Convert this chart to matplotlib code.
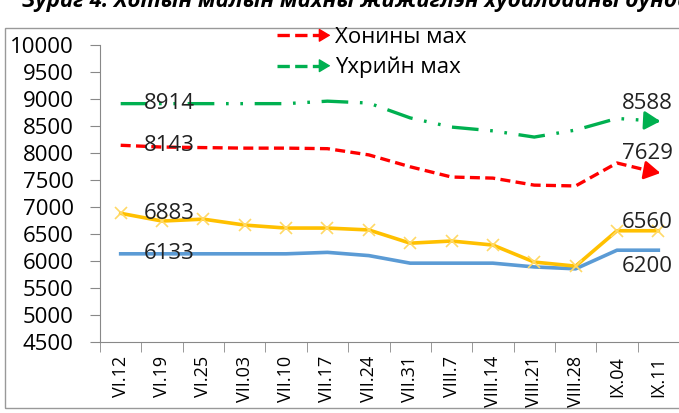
import matplotlib.pyplot as plt
from matplotlib.lines import Line2D
from matplotlib.patches import FancyArrowPatch, Rectangle
from matplotlib.legend_handler import HandlerBase

plt.rcParams['font.family'] = ['Open Sans', 'DejaVu Sans']

dates = ['VI.12', 'VI.19', 'VI.25', 'VII.03', 'VII.10', 'VII.17', 'VII.24',
         'VII.31', 'VIII.7', 'VIII.14', 'VIII.21', 'VIII.28', 'IX.04', 'IX.11']
mutton = [8143, 8110, 8100, 8090, 8090, 8080, 7965, 7745, 7555, 7535, 7405, 7390, 7815, 7629]
beef = [8914, 8914, 8914, 8914, 8914, 8960, 8925, 8650, 8480, 8410, 8295, 8425, 8640, 8588]
goat = [6883, 6740, 6775, 6665, 6610, 6610, 6575, 6330, 6370, 6295, 5980, 5905, 6560, 6560]
other = [6133, 6133, 6133, 6133, 6133, 6160, 6100, 5960, 5960, 5960, 5890, 5855, 6200, 6200]

RED = '#FF0000'
GREEN = '#00B050'
YELLOW = '#FFC000'
BLUE = '#5B9BD5'
red_ls = (0, (3, 1.6))
green_ls = (0, (8, 3.5, 0.8, 3.5, 0.8, 3.5))


class ArrowLine(HandlerBase):
    def create_artists(self, legend, orig_handle, xdescent, ydescent,
                       width, height, fontsize, trans):
        y = height / 2 - ydescent
        x0, x1 = -xdescent, width - xdescent
        line = Line2D([x0, x1 - 8], [y, y], color=orig_handle.get_color(),
                      linestyle=orig_handle.get_linestyle(), lw=orig_handle.get_linewidth())
        arr = FancyArrowPatch((x1 - 9, y), (x1, y), arrowstyle='-|>,head_length=0.5,head_width=0.3',
                              mutation_scale=14, color=orig_handle.get_color(), lw=1,
                              shrinkA=0, shrinkB=0)
        line.set_transform(trans)
        arr.set_transform(trans)
        return [line, arr]


fig = plt.figure(figsize=(6.79, 4.13), dpi=100)
ax = fig.add_axes([100 / 679, 1 - 342 / 413, 579 / 679, 297 / 413])
x = list(range(len(dates)))

ax.plot(x, other, color=BLUE, lw=2.6, zorder=2)
ax.plot(x, goat, color=YELLOW, lw=2.6, marker='x', ms=9, mec='#FFD966', mew=1.2, zorder=3)
l_red, = ax.plot(x, mutton, color=RED, lw=2.4, linestyle=red_ls, zorder=4)
l_green, = ax.plot(x, beef, color=GREEN, lw=2.4, linestyle=green_ls, zorder=4)

for vals, c in [(mutton, RED), (beef, GREEN)]:
    ax.annotate('', xy=(13.05, vals[13]), xytext=(12.85, vals[12] + 0.85 * (vals[13] - vals[12])),
                arrowprops=dict(arrowstyle='-|>,head_length=0.6,head_width=0.35', color=c, lw=2,
                                shrinkA=0, shrinkB=0, mutation_scale=16), zorder=5)

# data labels
for v in [beef[0], mutton[0], goat[0], other[0]]:
    ax.annotate(str(v), xy=(0, v), xytext=(35, 0), textcoords='offset points',
                ha='center', va='center', fontsize=16, color='#222222', zorder=6)
for v, dy in [(beef[13], 13), (mutton[13], 14), (goat[13], 6), (other[13], -12)]:
    ax.annotate(str(v), xy=(13, v), xytext=(-8, dy), textcoords='offset points',
                ha='center', va='center', fontsize=16, color='#222222', zorder=6)

ax.set_xlim(-0.5, 13.5)
ax.set_ylim(4500, 10000)
ax.set_yticks(range(4500, 10001, 500))
ax.set_xticks(x)
ax.set_xticklabels(dates, rotation=90, fontsize=13)
ax.set_xticks([i + 0.5 for i in range(-1, 14)], minor=True)
ax.tick_params(axis='x', which='major', length=0, pad=10)
ax.tick_params(axis='x', which='minor', length=7, color='#888888')
ax.tick_params(axis='y', length=7, color='#888888', labelsize=16, pad=12)
for s in ['top', 'right']:
    ax.spines[s].set_visible(False)
for s in ['left', 'bottom']:
    ax.spines[s].set_color('#888888')

fig.legend([l_red, l_green], ['Хонины мах', 'Үхрийн мах'], handler_map={Line2D: ArrowLine()},
           loc='upper left', bbox_to_anchor=(266 / 679, 1 - 16 / 413), frameon=False,
           fontsize=16, handlelength=2.4, handletextpad=0.2, labelspacing=0.4, borderpad=0)

fig.patches.append(Rectangle((5 / 679, 5 / 413), 1.0, 1 - 33 / 413, transform=fig.transFigure,
                             fill=False, edgecolor='#999999', lw=1))
fig.text(22 / 679, 1 - 7 / 413, 'Зураг 4. Хотын малын махны жижиглэн худалдааны дундаж', fontsize=16,
         fontweight='bold', fontstyle='italic', va='baseline', ha='left')

fig.savefig('out.png', dpi=100)
